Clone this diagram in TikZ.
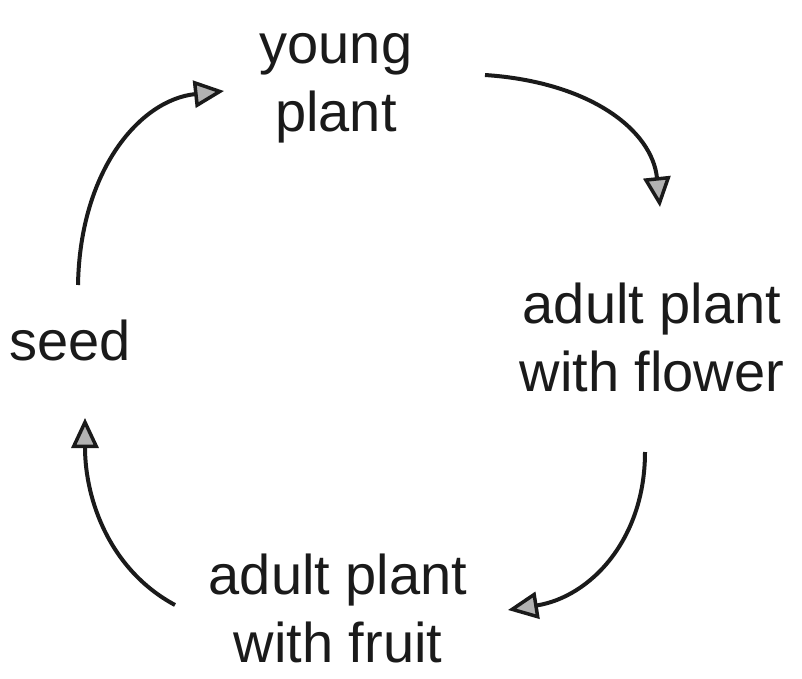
\documentclass[tikz,border=0pt]{standalone}
\usepackage{fontspec}
\setmainfont{Liberation Sans}
\usetikzlibrary{arrows.meta}
\definecolor{ink}{HTML}{1A1A1A}
\begin{document}
\begin{tikzpicture}[x=1pt,y=-1pt,
  lbl/.style={font=\fontsize{56}{68}\selectfont, align=center, inner sep=0pt, text=ink},
  cyc/.style={draw=ink, line width=4pt,
    -{Triangle[length=30pt,width=27pt,fill=gray!60,line width=3.5pt]}}]
\useasboundingbox (0,0) rectangle (802,679);
\node[lbl] (young) at (336,88) {young\\plant};
\node[lbl] (flower) at (652,337) {adult plant\\with flower};
\node[lbl] (fruit) at (338,608) {adult plant\\with fruit};
\node[lbl] (seed) at (70,340) {seed};
\coordinate (a1s) at (78,285);  \coordinate (a1e) at (224,91);
\coordinate (a2s) at (485,75);  \coordinate (a2e) at (660,207);
\coordinate (a3s) at (645,452); \coordinate (a3e) at (508,610);
\coordinate (a4s) at (175,605); \coordinate (a4e) at (85,418);
\draw[cyc] (a1s) .. controls (80,170) and (140,100) .. (a1e);
\draw[cyc] (a2s) .. controls (590,82) and (652,130) .. (a2e);
\draw[cyc] (a3s) .. controls (645,540) and (590,597) .. (a3e);
\draw[cyc] (a4s) .. controls (110,570) and (85,500) .. (a4e);
\end{tikzpicture}
\end{document}
